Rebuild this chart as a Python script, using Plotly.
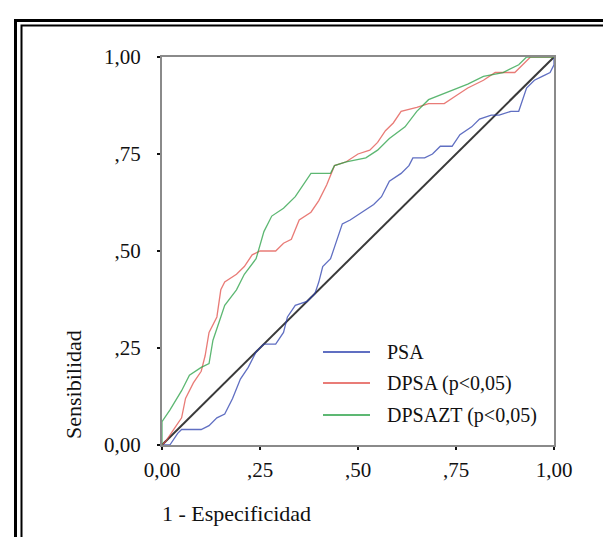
import plotly.graph_objects as go

# ROC curves (1 - especificidad, sensibilidad)
psa_x = [0, 0.02, 0.04, 0.05, 0.10, 0.12, 0.14, 0.16, 0.18, 0.20, 0.22, 0.24, 0.26, 0.29,
         0.31, 0.32, 0.34, 0.37, 0.39, 0.40, 0.41, 0.43, 0.44, 0.46, 0.48, 0.51, 0.54,
         0.56, 0.58, 0.61, 0.63, 0.64, 0.67, 0.69, 0.71, 0.74, 0.76, 0.79, 0.81, 0.84,
         0.86, 0.89, 0.91, 0.93, 0.95, 0.97, 0.99, 1.0, 1.0]
psa_y = [0, 0.0, 0.03, 0.04, 0.04, 0.05, 0.07, 0.08, 0.12, 0.17, 0.20, 0.24, 0.26, 0.26,
         0.29, 0.33, 0.36, 0.37, 0.39, 0.42, 0.46, 0.48, 0.51, 0.57, 0.58, 0.60, 0.62,
         0.64, 0.68, 0.70, 0.72, 0.74, 0.74, 0.75, 0.77, 0.77, 0.80, 0.82, 0.84, 0.85,
         0.85, 0.86, 0.86, 0.92, 0.94, 0.95, 0.96, 0.98, 1.0]

dpsa_x = [0, 0.01, 0.03, 0.05, 0.06, 0.08, 0.10, 0.11, 0.12, 0.14, 0.15, 0.16, 0.19, 0.21,
          0.23, 0.25, 0.29, 0.31, 0.33, 0.35, 0.38, 0.40, 0.42, 0.44, 0.47, 0.50, 0.53,
          0.55, 0.57, 0.59, 0.61, 0.65, 0.68, 0.72, 0.75, 0.78, 0.82, 0.85, 0.90, 0.92,
          0.94, 1.0]
dpsa_y = [0, 0.01, 0.04, 0.07, 0.12, 0.16, 0.19, 0.23, 0.29, 0.33, 0.40, 0.42, 0.44, 0.46,
          0.49, 0.50, 0.50, 0.52, 0.53, 0.58, 0.60, 0.63, 0.67, 0.72, 0.73, 0.75, 0.76,
          0.78, 0.81, 0.83, 0.86, 0.87, 0.88, 0.88, 0.90, 0.92, 0.94, 0.96, 0.96, 0.98,
          1.0, 1.0]

dpsazt_x = [0, 0, 0.02, 0.05, 0.07, 0.10, 0.12, 0.13, 0.15, 0.16, 0.19, 0.21, 0.24, 0.26,
            0.28, 0.31, 0.34, 0.36, 0.38, 0.43, 0.44, 0.47, 0.52, 0.55, 0.58, 0.62, 0.65,
            0.68, 0.73, 0.78, 0.82, 0.87, 0.91, 0.93, 1.0]
dpsazt_y = [0, 0.06, 0.09, 0.14, 0.18, 0.20, 0.21, 0.27, 0.33, 0.36, 0.40, 0.44, 0.48, 0.55,
            0.59, 0.61, 0.64, 0.67, 0.70, 0.70, 0.72, 0.73, 0.74, 0.76, 0.79, 0.82, 0.86,
            0.89, 0.91, 0.93, 0.95, 0.96, 0.98, 1.0, 1.0]

ref_x = [0, 1]
ref_y = [0, 1]

series_names = ['PSA', 'DPSA (p<0,05)', 'DPSAZT (p<0,05)']
series_colors = ['#2b3fae', '#e2504a', '#27a044']
tick_vals = [0, 0.25, 0.5, 0.75, 1.0]
tick_text = ['0,00', ',25', ',50', ',75', '1,00']

W, H = 611, 537
L, R, T, B = 154, 546, 49, 437   # plot area in pixels


def px(x):
    return (x - L) / (R - L)


def py(y):
    return (B - y) / (B - T)


font = 'Times New Roman, Liberation Serif, serif'

fig = go.Figure()
fig.add_trace(go.Scatter(x=ref_x, y=ref_y, mode='lines',
                         line=dict(color='#3a3a3a', width=2), showlegend=False))
for xs, ys, c, n in [(psa_x, psa_y, series_colors[0], series_names[0]),
                     (dpsa_x, dpsa_y, series_colors[1], series_names[1]),
                     (dpsazt_x, dpsazt_y, series_colors[2], series_names[2])]:
    fig.add_trace(go.Scatter(x=xs, y=ys, mode='lines', name=n, opacity=0.75,
                             line=dict(color=c, width=1.3), showlegend=False))

axis = dict(range=[0, 1], tickvals=tick_vals, ticktext=tick_text, showgrid=False,
            zeroline=False, showline=True, linecolor='#8a8a8a', linewidth=2, mirror=True,
            ticks='outside', ticklen=3, tickwidth=2, tickcolor='#111',
            tickfont=dict(family=font, size=21, color='#111'))

shapes = []
annotations = []

# legend drawn by hand
leg_rows = [344, 375, 407]
for yy, c, n in zip(leg_rows, series_colors, series_names):
    shapes.append(dict(type='line', xref='paper', yref='paper', x0=px(315), x1=px(362),
                       y0=py(yy), y1=py(yy), line=dict(color=c, width=1.5)))
    annotations.append(dict(xref='paper', yref='paper', x=px(377), y=py(yy), text=n,
                            showarrow=False, xanchor='left', yanchor='middle',
                            font=dict(family=font, size=20, color='#111')))

annotations.append(dict(xref='paper', yref='paper', x=px(152), y=py(505),
                        text='1 - Especificidad', showarrow=False, xanchor='left',
                        yanchor='middle', font=dict(family=font, size=22, color='#111')))
annotations.append(dict(xref='paper', yref='paper', x=px(65), y=py(377),
                        text='Sensibilidad', showarrow=False, textangle=-90,
                        xanchor='center', yanchor='middle',
                        font=dict(family=font, size=22, color='#111')))

# double frame round the picture
shapes.append(dict(type='rect', xref='paper', yref='paper', x0=px(7.5), x1=px(625),
                   y0=py(12.5), y1=py(560), line=dict(color='black', width=3)))
shapes.append(dict(type='rect', xref='paper', yref='paper', x0=px(13.5), x1=px(608),
                   y0=py(17.5), y1=py(560), line=dict(color='black', width=2)))

fig.update_layout(
    width=W, height=H,
    margin=dict(l=L, r=W - R, t=T, b=H - B),
    paper_bgcolor='white', plot_bgcolor='white',
    xaxis=axis, yaxis=axis,
    shapes=shapes, annotations=annotations,
    showlegend=False,
)
fig.update_xaxes(ticklabelstandoff=2)
fig.update_yaxes(ticklabelstandoff=12)

fig.write_html('out.html')
